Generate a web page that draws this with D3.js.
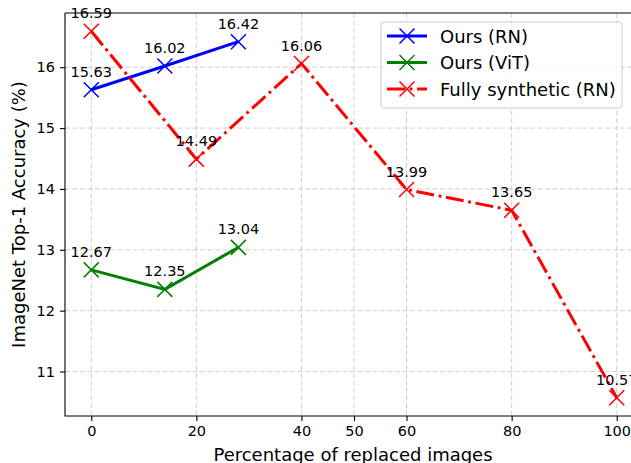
<!DOCTYPE html>
<html>
<head>
<meta charset="utf-8">
<script src="https://cdn.jsdelivr.net/npm/d3@7"></script>
<style>
  body { margin: 0; background: #fff; }
  svg { font-family: "DejaVu Sans", sans-serif; display: block; }
</style>
</head>
<body>
<div id="chart"></div>
<script>
// data
const oursRnX = [0, 14, 28];
const oursRnY = [15.63, 16.02, 16.42];
const oursVitX = [0, 14, 28];
const oursVitY = [12.67, 12.35, 13.04];
const synthX = [0, 20, 40, 60, 80, 100];
const synthY = [16.59, 14.49, 16.06, 13.99, 13.65, 10.57];
const xTicks = [0, 20, 40, 50, 60, 80, 100];
const yTicks = [11, 12, 13, 14, 15, 16];

const series = [
  {name: "Ours (RN)", xs: oursRnX, ys: oursRnY, color: "blue", dash: null},
  {name: "Ours (ViT)", xs: oursVitX, ys: oursVitY, color: "green", dash: null},
  {name: "Fully synthetic (RN)", xs: synthX, ys: synthY, color: "red", dash: "18,4.6,2.9,4.6"}
];

const W = 631, H = 463;
const plot = {left: 65, top: 13, right: 643, bottom: 416};

const x = d3.scaleLinear().domain([-5, 105]).range([plot.left, plot.right]);
const y = d3.scaleLinear().domain([10.269, 16.891]).range([plot.bottom, plot.top]);

const svg = d3.select("#chart").append("svg")
    .attr("width", W)
    .attr("height", H);

// grid
const grid = svg.append("g");
grid.selectAll(".gx").data(xTicks).join("line")
    .attr("x1", d => x(d)).attr("x2", d => x(d))
    .attr("y1", plot.top).attr("y2", plot.bottom)
    .attr("stroke", "#b0b0b0").attr("stroke-opacity", 0.6)
    .attr("stroke-width", 1).attr("stroke-dasharray", "5,2.5");
grid.selectAll(".gy").data(yTicks).join("line")
    .attr("x1", plot.left).attr("x2", plot.right)
    .attr("y1", d => y(d)).attr("y2", d => y(d))
    .attr("stroke", "#b0b0b0").attr("stroke-opacity", 0.6)
    .attr("stroke-width", 1).attr("stroke-dasharray", "5,2.5");

// axes
const xAxis = svg.append("g")
    .attr("transform", "translate(0," + plot.bottom + ")")
    .call(d3.axisBottom(x).tickValues(xTicks).tickSize(5).tickPadding(5).tickFormat(d3.format("d")));
const yAxis = svg.append("g")
    .attr("transform", "translate(" + plot.left + ",0)")
    .call(d3.axisLeft(y).tickValues(yTicks).tickSize(5).tickPadding(5).tickFormat(d3.format("d")));
[xAxis, yAxis].forEach(a => {
  a.select(".domain").remove();
  a.selectAll("line").attr("stroke", "#000").attr("stroke-width", 1.1);
  a.selectAll("text").attr("font-size", "14.5px").attr("fill", "#000")
      .attr("font-family", "DejaVu Sans, sans-serif");
});

// spines
svg.append("path")
    .attr("d", `M${plot.left},${plot.top}V${plot.bottom}H${plot.right}M${plot.left},${plot.top}H${plot.right}`)
    .attr("fill", "none").attr("stroke", "#000").attr("stroke-width", 1.1);

const line = d3.line()
    .x(d => x(d[0]))
    .y(d => y(d[1]));

const msz = 7.5;
function xMarker(g, cx, cy, color, s) {
  g.append("path")
      .attr("d", `M${cx - s},${cy - s}L${cx + s},${cy + s}M${cx - s},${cy + s}L${cx + s},${cy - s}`)
      .attr("stroke", color).attr("stroke-width", 1.5).attr("fill", "none");
}

series.forEach(s => {
  const pts = s.xs.map((v, i) => [v, s.ys[i]]);
  const g = svg.append("g");
  g.append("path")
      .datum(pts)
      .attr("d", line)
      .attr("fill", "none")
      .attr("stroke", s.color)
      .attr("stroke-width", 3)
      .attr("stroke-dasharray", s.dash);
  pts.forEach(p => xMarker(g, x(p[0]), y(p[1]), s.color, msz));
});

// value labels
series.forEach(s => {
  svg.append("g").selectAll("text")
      .data(s.xs.map((v, i) => [v, s.ys[i]]))
      .join("text")
      .attr("x", d => x(d[0]))
      .attr("y", d => y(d[1]) - 13)
      .attr("text-anchor", "middle")
      .attr("font-size", "14.5px")
      .attr("fill", "#000")
      .text(d => d[1].toFixed(2));
});

// axis labels
svg.append("text")
    .attr("x", (plot.left + plot.right) / 2 - 1)
    .attr("y", 461)
    .attr("text-anchor", "middle")
    .attr("font-size", "18px")
    .text("Percentage of replaced images");
svg.append("text")
    .attr("transform", "translate(25," + ((plot.top + plot.bottom) / 2) + ") rotate(-90)")
    .attr("text-anchor", "middle")
    .attr("font-size", "18px")
    .text("ImageNet Top-1 Accuracy (%)");

// legend
const leg = svg.append("g").attr("transform", "translate(381,22)");
leg.append("rect")
    .attr("width", 241).attr("height", 86)
    .attr("rx", 3)
    .attr("fill", "#fff").attr("fill-opacity", 0.8)
    .attr("stroke", "#cccccc").attr("stroke-width", 1);
series.forEach((s, i) => {
  const cy = 14 + i * 26.5;
  const row = leg.append("g");
  row.append("line")
      .attr("x1", 6).attr("x2", 46)
      .attr("y1", cy).attr("y2", cy)
      .attr("stroke", s.color).attr("stroke-width", 3)
      .attr("stroke-dasharray", s.dash);
  xMarker(row, 26, cy, s.color, msz);
  row.append("text")
      .attr("x", 59).attr("y", cy + 6.5)
      .attr("font-size", "18px")
      .text(s.name);
});
</script>
</body>
</html>
